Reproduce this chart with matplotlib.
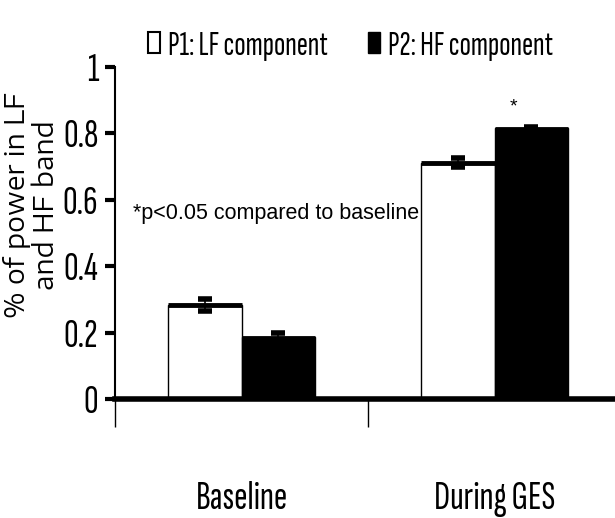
import numpy as np
import matplotlib
matplotlib.use("Agg")
import matplotlib.pyplot as plt
from matplotlib.patches import Patch

categories = ["Baseline", "During GES"]
series_names = ["P1: LF component", "P2: HF component"]
lf_values = [0.283, 0.712]
hf_values = [0.186, 0.816]
lf_err = [0.018, 0.014]
hf_err = [0.012, 0.004]
y_ticks = [0, 0.2, 0.4, 0.6, 0.8, 1]
y_tick_labels = ["0", "0.2", "0.4", "0.6", "0.8", "1"]

narrow = ["Sofia Sans Extra Condensed", "Liberation Sans Narrow", "Liberation Sans", "DejaVu Sans"]
wide = ["Encode Sans Expanded", "Liberation Sans", "DejaVu Sans"]
plt.rcParams["font.family"] = ["Liberation Sans", "DejaVu Sans"]

fig = plt.figure(figsize=(6.15, 5.18), dpi=100)
ax = fig.add_axes([0.187, 0.2297, 0.813, 0.641])

x = np.arange(len(categories))
w = 0.29
ax.bar(x - w / 2, lf_values, w, color="white", edgecolor="black", linewidth=1, zorder=2)
ax.bar(x + w / 2, hf_values, w, color="black", edgecolor="black", linewidth=1, zorder=2)
# thick top edge on the bars
ax.hlines(lf_values, x - w, x, colors="black", linewidth=3.5, zorder=3)
ax.hlines(hf_values, x, x + w, colors="black", linewidth=2, zorder=3)
ax.errorbar(x - w / 2, lf_values, yerr=lf_err, fmt="none", ecolor="black",
            elinewidth=1.2, capsize=5, capthick=4, zorder=4)
ax.errorbar(x + w / 2, hf_values, yerr=hf_err, fmt="none", ecolor="black",
            elinewidth=1.2, capsize=5, capthick=4, zorder=4)

ax.set_xlim(-0.5, 1.476)
ax.set_ylim(0, 1)
ax.set_yticks(y_ticks)
ax.set_yticklabels(y_tick_labels, family=narrow, fontsize=29)
ax.tick_params(axis="y", direction="out", length=7, width=3, pad=5)
ax.set_xticks([-0.5, 0.5])
ax.set_xticklabels([])
ax.tick_params(axis="x", direction="out", length=20, width=1)
for s in ["top", "right"]:
    ax.spines[s].set_visible(False)
ax.spines["bottom"].set_linewidth(4)
ax.spines["left"].set_linewidth(1.5)

for xi, name in zip(x, categories):
    ax.text(xi, -0.30, name, ha="center", va="center", family=narrow, fontsize=29)

ax.text(-0.43, 0.56, "*p<0.05 compared to baseline", fontsize=15.5, va="center")
ax.text(x[1] + w / 2 - 0.07, hf_values[1] + 0.065, "*", fontsize=14, ha="center", va="center")

ax.set_ylabel("% of power in LF\nand HF band", family=wide, fontsize=19, linespacing=1.05)
ax.yaxis.set_label_coords(-0.11, 0.585)

handles = [Patch(facecolor="white", edgecolor="black", linewidth=1.5),
           Patch(facecolor="black", edgecolor="black")]
fig.legend(handles, series_names, loc="center", bbox_to_anchor=(0.57, 0.912), ncol=2,
           frameon=False, handlelength=0.35, handleheight=0.6, handletextpad=0.25,
           columnspacing=1.2, prop={"family": narrow, "size": 24})

fig.savefig("out.png", dpi=100)
